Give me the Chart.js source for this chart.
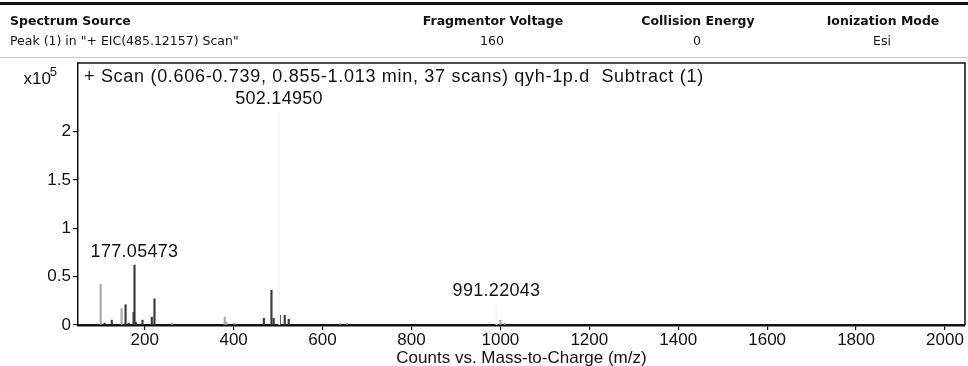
<!DOCTYPE html>
<html>
<head>
<meta charset="utf-8">
<script src="https://cdn.jsdelivr.net/npm/chart.js@4"></script>
<style>
  html, body { margin: 0; padding: 0; background: #fff; }
  #wrap { position: relative; width: 968px; height: 366px; overflow: hidden; }
  #chart { position: absolute; left: 0; top: 0; }
  .hdr { position: absolute; font-family: "DejaVu Sans", Verdana, sans-serif; font-size: 12.5px; color: #111; white-space: nowrap; }
  .b { font-weight: bold; }
  .c { transform: translateX(-50%); }
  #topRule { position: absolute; left: 0; top: 2px; width: 968px; height: 3px; background: #111; }
  #midRule { position: absolute; left: 0; top: 57px; width: 968px; height: 1px; background: #c8c8c8; }
</style>
</head>
<body>
<div id="wrap">
  <canvas id="chart" width="968" height="366"></canvas>
  <div id="topRule"></div>
  <div class="hdr b" style="left:10px; top:13px;">Spectrum Source</div>
  <div class="hdr b c" style="left:493px; top:13px;">Fragmentor Voltage</div>
  <div class="hdr b c" style="left:698px; top:13px;">Collision Energy</div>
  <div class="hdr b c" style="left:883px; top:13px;">Ionization Mode</div>
  <div class="hdr" style="left:10px; top:33px;">Peak (1) in "+ EIC(485.12157) Scan"</div>
  <div class="hdr c" style="left:492px; top:33px;">160</div>
  <div class="hdr c" style="left:697px; top:33px;">0</div>
  <div class="hdr c" style="left:882px; top:33px;">Esi</div>
  <div id="midRule"></div>
</div>
<script>
// Peak data (m/z, counts x10^5)
const darkMz = [110, 126, 157, 164, 175, 177.05473, 180, 195, 216, 222, 468, 485.12157, 490, 504, 515, 524];
const darkCounts = [0.02, 0.05, 0.21, 0.02, 0.13, 0.62, 0.03, 0.05, 0.08, 0.27, 0.07, 0.36, 0.07, 0.10, 0.10, 0.06];

const faintMz = [101, 148, 261, 380, 384, 402, 640, 655, 1000, 1010];
const faintCounts = [0.42, 0.17, 0.02, 0.08, 0.03, 0.02, 0.02, 0.02, 0.05, 0.02];

// peaks that barely survived in the scan
const ghostMz = [502.1495, 991.22043];
const ghostCounts = [2.2, 0.22];

// labelled peaks
const labelMz = [502.1495, 177.05473, 991.22043];
const labelCounts = [2.2, 0.62, 0.22];
const labelText = ['502.14950', '177.05473', '991.22043'];

const xTicks = [200, 400, 600, 800, 1000, 1200, 1400, 1600, 1800, 2000];
const yTicks = [0, 0.5, 1, 1.5, 2];

const scanTitle = '+ Scan (0.606-0.739, 0.855-1.013 min, 37 scans) qyh-1p.d  Subtract (1)';
const xTitle = 'Counts vs. Mass-to-Charge (m/z)';

const FONT = '"Liberation Sans", Arial, sans-serif';

function toPoints(xs, ys) {
    return xs.map((x, i) => ({ x: x, y: ys[i] }));
}

// box, scan title, exponent and peak labels
const annotations = {
    id: 'annotations',
    afterDraw(chart) {
        const ctx = chart.ctx;
        const area = chart.chartArea;
        const xs = chart.scales.x;
        const ys = chart.scales.y;
        ctx.save();
        ctx.strokeStyle = '#111';
        ctx.lineWidth = 1.5;
        ctx.beginPath();
        ctx.moveTo(area.left, area.top);
        ctx.lineTo(area.right, area.top);
        ctx.lineTo(area.right, area.bottom);
        ctx.stroke();

        ctx.fillStyle = '#111';
        ctx.font = '18px ' + FONT;
        ctx.letterSpacing = '0.7px';
        ctx.textBaseline = 'middle';
        ctx.textAlign = 'left';
        ctx.fillText(scanTitle, area.left + 6, area.top + 14);

        ctx.letterSpacing = '0px';
        ctx.font = '17px ' + FONT;
        ctx.textAlign = 'right';
        ctx.fillText('x10', area.left - 27, area.top + 16);
        ctx.font = '13px ' + FONT;
        ctx.fillText('5', area.left - 21, area.top + 9);

        ctx.font = '18px ' + FONT;
        ctx.letterSpacing = '0.3px';
        ctx.textAlign = 'center';
        ctx.textBaseline = 'bottom';
        labelMz.forEach((mz, i) => {
            const px = xs.getPixelForValue(mz);
            const py = ys.getPixelForValue(labelCounts[i]);
            ctx.fillText(labelText[i], px, py - 4);
        });
        ctx.restore();
    }
};

const barStyle = {
    barThickness: 1.5,
    grouped: false,
    borderWidth: 0
};

new Chart(document.getElementById('chart').getContext('2d'), {
    type: 'bar',
    data: {
        datasets: [
            Object.assign({ label: 'ghost', data: toPoints(ghostMz, ghostCounts), backgroundColor: '#f6f6f6' }, barStyle),
            Object.assign({ label: 'faint', data: toPoints(faintMz, faintCounts), backgroundColor: '#a8a8a8' }, barStyle),
            Object.assign({ label: 'peaks', data: toPoints(darkMz, darkCounts), backgroundColor: '#3a3a3a' }, barStyle)
        ]
    },
    options: {
        responsive: false,
        animation: false,
        events: [],
        layout: { padding: { left: 0, right: 3, top: 63, bottom: 0 } },
        plugins: {
            legend: { display: false },
            tooltip: { enabled: false }
        },
        scales: {
            x: {
                type: 'linear',
                offset: false,
                min: 50,
                max: 2045,
                afterBuildTicks: (scale) => { scale.ticks = xTicks.map(v => ({ value: v })); },
                afterFit: (scale) => { scale.height = 41; },
                grid: { offset: false, drawOnChartArea: false, drawTicks: true, tickLength: 5, tickColor: '#111', lineWidth: 1.2 },
                border: { display: true, color: '#111', width: 2.5 },
                ticks: {
                    color: '#111', padding: 0, maxRotation: 0, autoSkip: false,
                    font: { family: FONT, size: 17 },
                    callback: (v) => String(v)
                },
                title: { display: true, text: xTitle, color: '#111', padding: { top: 0, bottom: -3 }, font: { family: FONT, size: 17 } }
            },
            y: {
                min: 0,
                max: 2.71,
                afterBuildTicks: (scale) => { scale.ticks = yTicks.map(v => ({ value: v })); },
                afterFit: (scale) => { scale.width = 78; },
                grid: { drawOnChartArea: false, drawTicks: true, tickLength: 5, tickColor: '#111', lineWidth: 1.2 },
                border: { display: true, color: '#111', width: 1.5 },
                ticks: { color: '#111', padding: 2, font: { family: FONT, size: 17 }, callback: (v) => String(v) }
            }
        }
    },
    plugins: [annotations]
});
</script>
</body>
</html>
